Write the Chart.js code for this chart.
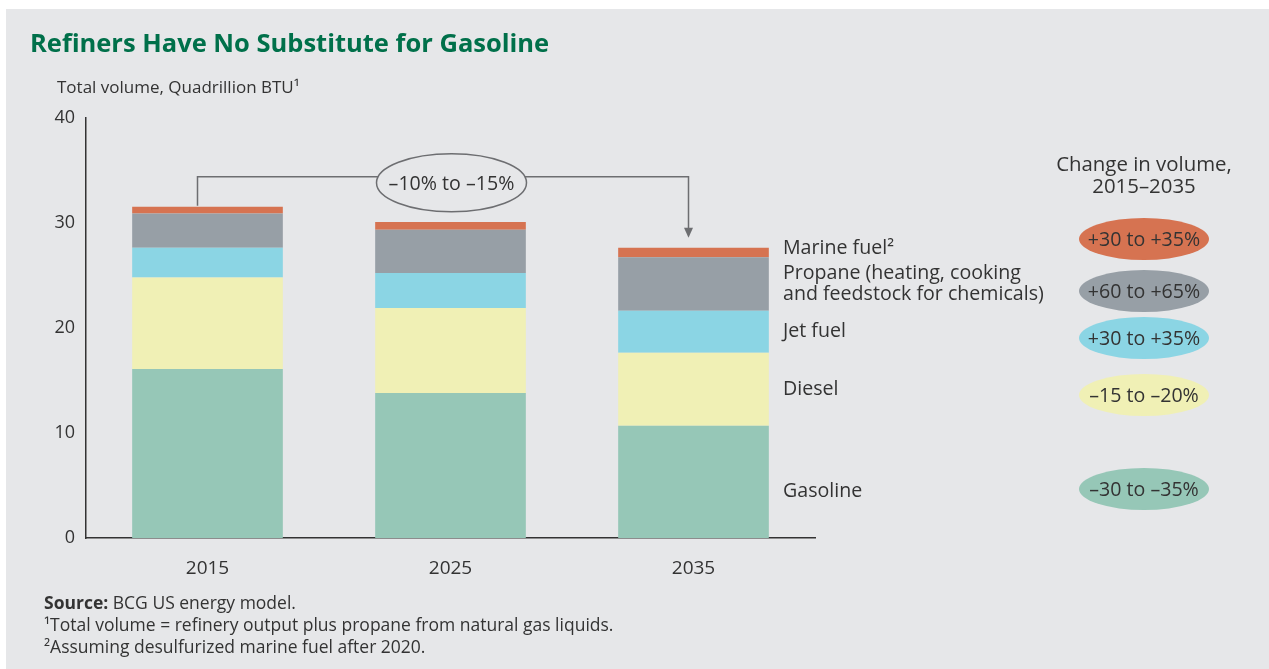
<!DOCTYPE html>
<html>
<head>
<meta charset="utf-8">
<script src="https://cdn.jsdelivr.net/npm/chart.js@4"></script>
<style>
  html, body { margin: 0; padding: 0; background: #fff; }
  canvas { display: block; }
</style>
</head>
<body>
<canvas id="chart" width="1269" height="669"></canvas>
<script>
// data (quadrillion BTU)
const years = ['2015', '2025', '2035'];
const gasoline = [16.1, 13.8, 10.7];
const diesel = [8.7, 8.1, 6.95];
const jetFuel = [2.85, 3.35, 4.0];
const propane = [3.25, 4.1, 5.1];
const marineFuel = [0.65, 0.75, 0.9];

const seriesNames = ['Gasoline', 'Diesel', 'Jet fuel', ['Propane (heating, cooking', 'and feedstock for chemicals)'], 'Marine fuel²'];
const seriesColors = ['#96c7b7', '#f0f0b5', '#8bd5e4', '#979fa6', '#d67351'];
const changeLabels = ['–30 to –35%', '–15 to –20%', '+30 to +35%', '+60 to +65%', '+30 to +35%'];
const totalChange = '–10% to –15%';
const yTicks = [0, 10, 20, 30, 40];

const FONT = '"Open Sans", Lato, sans-serif';
const TEXT = '#333333';

const decor = {
    id: 'decor',
    beforeDraw: function (chart) {
        const ctx = chart.ctx;
        ctx.save();
        ctx.fillStyle = '#ffffff';
        ctx.fillRect(0, 0, chart.width, chart.height);
        ctx.fillStyle = '#e6e7e9';
        ctx.fillRect(6, 9, chart.width - 6, chart.height - 9);
        ctx.restore();
    },
    afterDraw: function (chart) {
        const ctx = chart.ctx;
        const x = chart.scales.x;
        const y = chart.scales.y;
        ctx.save();

        // title + axis caption
        ctx.fillStyle = '#00704a';
        ctx.font = 'bold 25.5px ' + FONT;
        ctx.textBaseline = 'alphabetic';
        ctx.fillText('Refiners Have No Substitute for Gasoline', 30, 52);
        ctx.fillStyle = TEXT;
        ctx.font = '17px ' + FONT;
        ctx.fillText('Total volume, Quadrillion BTU¹', 57, 93);

        // segment labels next to the 2035 bar
        const last = years.length - 1;
        const sets = chart.data.datasets;
        const nudge = [10, 0, 0, 0, -4];
        let base = 0;
        ctx.font = '19.6px ' + FONT;
        ctx.textBaseline = 'middle';
        sets.forEach(function (ds, i) {
            const v = ds.data[last];
            const mid = y.getPixelForValue(base + v / 2) + nudge[i];
            base += v;
            const lines = Array.isArray(seriesNames[i]) ? seriesNames[i] : [seriesNames[i]];
            lines.forEach(function (t, k) {
                ctx.fillText(t, 783, mid + (k - (lines.length - 1) / 2) * 21);
            });
        });

        // change-in-volume column
        ctx.textAlign = 'center';
        ctx.font = '20.4px ' + FONT;
        ctx.fillText('Change in volume,', 1144, 165);
        ctx.fillText('2015–2035', 1144, 187);
        ctx.font = '19.6px ' + FONT;
        const pillY = [489, 395, 338, 291, 239];
        sets.forEach(function (ds, i) {
            ctx.beginPath();
            ctx.ellipse(1144, pillY[i], 65, 21, 0, 0, Math.PI * 2);
            ctx.fillStyle = seriesColors[i];
            ctx.fill();
            ctx.fillStyle = TEXT;
            ctx.fillText(changeLabels[i], 1144, pillY[i] + 1);
        });

        // bracket from 2015 total to 2035 total
        const total = function (j) {
            return sets.reduce(function (s, ds) { return s + ds.data[j]; }, 0);
        };
        const x0 = x.getPixelForValue(0) - 10;
        const x2 = x.getPixelForValue(last) - 5;
        const top = y.getPixelForValue(34.4);
        const startY = y.getPixelForValue(total(0)) - 1;
        const tipY = y.getPixelForValue(total(last)) - 10;
        const cx = x.getPixelForValue(1) + 1;
        const cy = top + 6;
        const rx = 75, ry = 29;
        const dx = rx * Math.sqrt(1 - Math.pow((top - cy) / ry, 2));
        ctx.strokeStyle = '#6d6e71';
        ctx.lineWidth = 1.5;
        ctx.beginPath();
        ctx.moveTo(x0, startY);
        ctx.lineTo(x0, top);
        ctx.lineTo(cx - dx, top);
        ctx.moveTo(cx + dx, top);
        ctx.lineTo(x2, top);
        ctx.lineTo(x2, tipY - 9);
        ctx.stroke();
        ctx.fillStyle = '#6d6e71';
        ctx.beginPath();
        ctx.moveTo(x2 - 4.5, tipY - 10);
        ctx.lineTo(x2 + 4.5, tipY - 10);
        ctx.lineTo(x2, tipY);
        ctx.closePath();
        ctx.fill();
        ctx.beginPath();
        ctx.ellipse(cx, cy, rx, ry, 0, 0, Math.PI * 2);
        ctx.stroke();
        ctx.fillStyle = TEXT;
        ctx.fillText(totalChange, cx, cy + 2);

        // footnotes
        ctx.textAlign = 'left';
        ctx.textBaseline = 'alphabetic';
        ctx.font = 'bold 17.5px ' + FONT;
        ctx.fillText('Source:', 44, 609);
        const w = ctx.measureText('Source:').width;
        ctx.font = '17.5px ' + FONT;
        ctx.fillText(' BCG US energy model.', 44 + w, 609);
        ctx.fillText('¹Total volume = refinery output plus propane from natural gas liquids.', 44, 631);
        ctx.fillText('²Assuming desulfurized marine fuel after 2020.', 44, 653);
        ctx.restore();
    }
};

const values = [gasoline, diesel, jetFuel, propane, marineFuel];

new Chart(document.getElementById('chart'), {
    type: 'bar',
    data: {
        labels: years,
        datasets: values.map(function (v, i) {
            return {
                label: Array.isArray(seriesNames[i]) ? seriesNames[i].join(' ') : seriesNames[i],
                data: v,
                backgroundColor: seriesColors[i],
                borderWidth: 0,
                barPercentage: 0.62,
                categoryPercentage: 1
            };
        })
    },
    options: {
        responsive: false,
        animation: false,
        devicePixelRatio: 1,
        layout: { padding: { left: 0, top: 118, right: 454, bottom: 91 } },
        plugins: { legend: { display: false }, tooltip: { enabled: false } },
        scales: {
            x: {
                stacked: true,
                grid: { display: false, drawTicks: false },
                border: { color: '#333', width: 1.5 },
                ticks: { color: TEXT, font: { family: FONT, size: 19 }, padding: 19 },
                afterFit: function (s) { s.height = 40; }
            },
            y: {
                stacked: true,
                min: 0,
                max: 40,
                afterBuildTicks: function (s) { s.ticks = yTicks.map(function (v) { return { value: v }; }); },
                grid: { display: false, drawTicks: false },
                border: { color: '#333', width: 1.5 },
                ticks: { color: TEXT, font: { family: FONT, size: 18 }, padding: 11 },
                afterFit: function (s) { s.width = 86; }
            }
        }
    },
    plugins: [decor]
});
</script>
</body>
</html>
